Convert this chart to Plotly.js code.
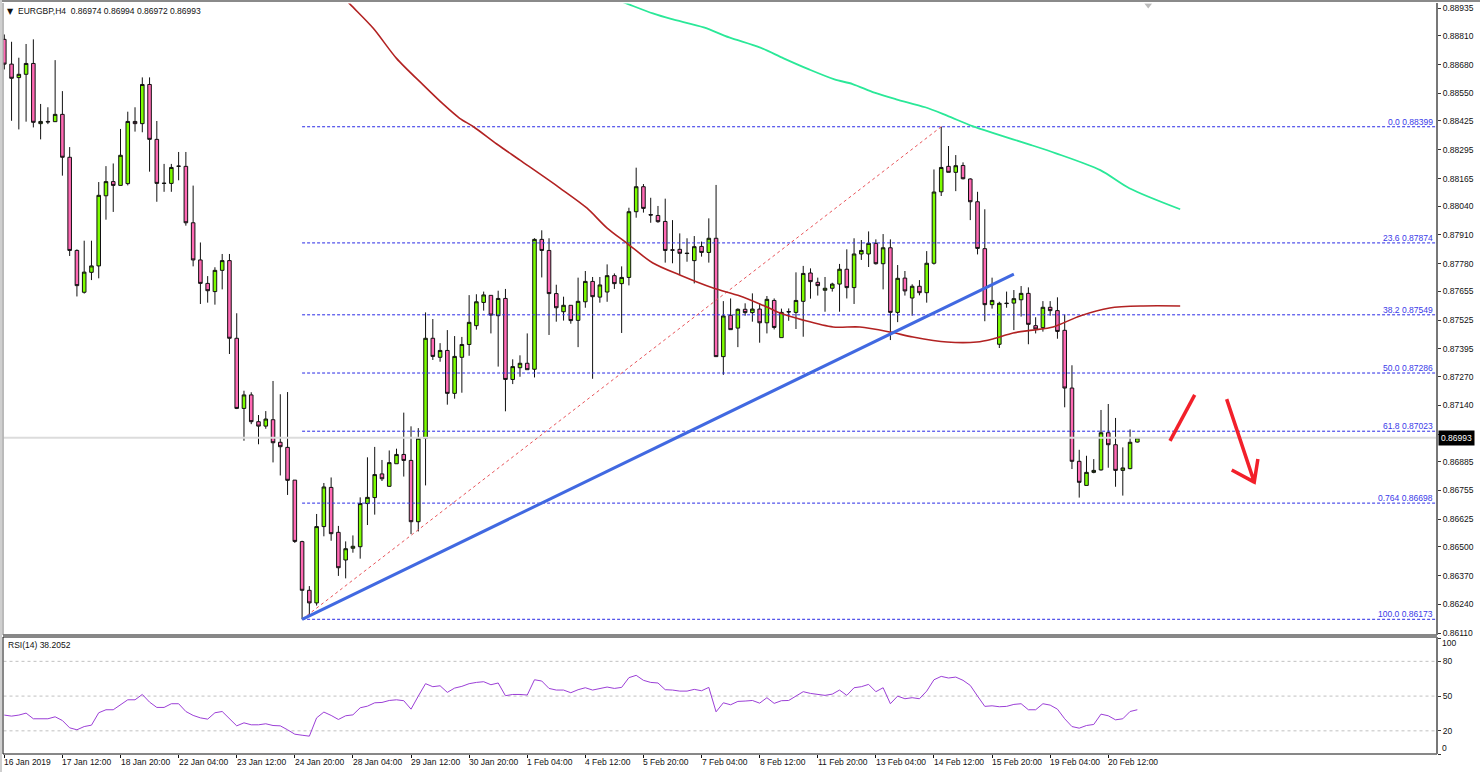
<!DOCTYPE html>
<html><head><meta charset="utf-8">
<script src="https://cdn.plot.ly/plotly-3.0.1.min.js"></script>
<style>html,body{margin:0;padding:0;background:#fff;overflow:hidden}#c{width:1480px;height:772px}</style>
</head><body><div id="c"></div>
<script>
// Prices in 1/100000 units (pipettes), bar by bar (4H bars)
const openP=[88794,88682,88621,88636,88685,88413,88423,88422,88455,88261,87840,87651,87741,87770,88087,88151,88134,88142,88423,88413,88590,88342,88144,88143,88220,88220,87965,87797,87691,87654,87750,87794,87443,87126,87187,87066,87046,87075,86973,86950,86802,86524,86304,86247,86592,86769,86566,86441,86494,86501,86696,86723,86830,86774,86876,86918,86891,86614,86991,87443,87357,87388,87194,87357,87415,87500,87605,87637,87545,87623,87257,87310,87330,87303,87890,87840,87645,87563,87592,87524,87608,87700,87629,87652,87726,87690,87718,88015,88128,88002,87998,87971,87843,87845,87828,87794,87858,87831,87895,87360,87547,87489,87574,87559,87575,87513,87614,87446,87564,87560,87610,87738,87696,87660,87669,87688,87755,87672,87824,87824,87872,87780,87852,87560,87715,87625,87678,87649,87782,88105,88220,88193,88224,88163,88060,87848,87595,87416,87602,87602,87617,87646,87500,87491,87583,87568,87479,87218,86887,86778,86837,86848,87016,86962,86846,86854,86974];
const highP=[88816,88783,88711,88773,88794,88502,88487,88700,88560,88307,87845,87884,87884,88149,88221,88233,88389,88467,88487,88622,88622,88425,88231,88231,88285,88285,88133,87876,87724,87764,87824,87824,87556,87206,87199,87096,87114,87250,87190,87200,86802,86528,86323,86649,86789,86814,86595,86525,86552,86724,86905,86952,86893,86936,86944,87107,87045,87037,87560,87530,87421,87480,87453,87449,87638,87642,87654,87637,87658,87666,87348,87366,87465,87895,87931,87895,87685,87631,87592,87717,87747,87720,87720,87777,87736,87768,88033,88214,88140,88078,88041,88074,87977,87917,87895,87905,87880,87985,88136,87611,87623,87578,87601,87646,87601,87634,87623,87577,87578,87741,87770,87759,87717,87720,87694,87779,87845,87895,87887,87926,87890,87914,87890,87774,87747,87687,87706,87837,88206,88399,88312,88271,88238,88166,88105,88026,87717,87608,87654,87661,87679,87673,87538,87611,87611,87628,87551,87321,86939,86912,86897,87119,87146,87083,86950,87031,86994];
const lowP=[88658,88426,88387,88422,88396,88342,88411,88421,88178,87815,87632,87645,87706,87714,87979,88014,88134,88134,88377,88374,88196,88060,88105,88105,88157,87952,87768,87598,87604,87595,87664,87372,87123,86980,87055,86964,87034,86882,86823,86735,86518,86173,86192,86235,86548,86528,86369,86358,86474,86447,86599,86646,86798,86772,86876,86818,86558,86570,86778,87345,87337,87143,87170,87197,87364,87482,87568,87465,87315,87113,87236,87269,87301,87266,87718,87458,87518,87523,87509,87403,87581,87260,87604,87608,87666,87467,87682,87988,88011,87965,87965,87785,87782,87729,87789,87691,87812,87785,87360,87278,87482,87403,87545,87518,87423,87465,87483,87446,87522,87485,87450,87622,87636,87563,87654,87563,87623,87598,87797,87765,87776,87664,87435,87516,87636,87545,87637,87604,87776,88086,88193,88108,88161,87977,87822,87520,87577,87399,87581,87480,87541,87416,87465,87473,87545,87441,87131,86852,86723,86778,86833,86845,86858,86772,86732,86851,86972];
const closeP=[88682,88618,88636,88685,88419,88423,88421,88455,88261,87840,87681,87742,87770,88089,88151,88134,88270,88423,88413,88590,88342,88143,88143,88215,88221,87965,87797,87691,87658,87750,87794,87443,87126,87187,87066,87046,87078,86971,86953,86801,86525,86304,86247,86592,86771,86560,86406,86492,86503,86696,86724,86827,86808,86881,86918,86891,86614,86991,87443,87361,87388,87194,87361,87415,87515,87608,87639,87548,87623,87257,87315,87330,87301,87890,87840,87645,87581,87592,87523,87610,87700,87631,87684,87726,87690,87718,88015,88128,88030,88000,87970,87840,87841,87827,87826,87857,87831,87895,87360,87544,87482,87574,87559,87575,87513,87619,87492,87560,87562,87614,87736,87699,87681,87669,87688,87755,87672,87824,87840,87872,87780,87852,87560,87714,87657,87678,87649,87782,88104,88215,88193,88223,88164,88060,87849,87595,87614,87601,87600,87622,87646,87506,87485,87583,87568,87474,87218,86887,86792,86837,86846,87016,86962,86846,86857,86973,86993];
const rsiValues=[33.6,32.7,33.6,35.3,30.4,30.4,30.4,32.1,28.9,22.6,20.9,23.7,24.9,35.6,38.2,38.2,42.5,46.8,46.8,51.4,44.8,40.2,40.2,43.4,43.4,36.7,33.3,31.2,30.1,35.6,36.7,30.1,24.3,26.9,25.2,25.2,26.1,24.6,24.3,20.9,17.1,16.2,15.4,31.2,36.2,33.3,29.8,33,33.8,39.9,41.3,44.2,44.5,46.2,46.8,46,38.7,50,60.7,58.1,58.9,53.2,56.9,58.4,60.7,61.8,62.4,59.8,61.3,50.3,51.4,51.4,50.9,64.1,63,56.6,55.2,55.2,52.9,55.5,57.2,55.2,56.3,57.8,56.6,57.5,65.9,67.9,63.6,61.8,61.3,55.5,55.2,54.3,54.3,55.8,54.6,57.5,36.4,44.2,42.5,45.4,45.7,46.2,43.9,48.6,43.7,46,46.2,50,53.8,52.3,51.4,50.6,51.7,55.2,50.6,57.2,58.1,60.1,53.8,57.2,43.4,50,47.7,48.6,47.7,54.3,64.1,67,65.6,66.4,63.6,59.2,50,41.1,41.6,40.8,41.1,42.8,43.4,38.2,38.2,43.4,42.2,38.7,30.4,23.7,22.3,24.6,25.5,34.4,33,29.5,30.4,36.7,38.2];
// Moving averages (shifted forward past the last bar)
const ma100Bar=[46,47.6,50.8,54,57.7,60.4,62.7,64.6,67.8,71,76.5,80.2,83,85.7,89.3,93,97.6,101.3,105,106.8,110,114.1,117.8,122,125.1,129.8,133.9,136.1,138.9,141.6,144.4,148.1,152.2,156.8,161.9];
const ma100Val=[89010,88953,88844,88708,88587,88502,88437,88399,88321,88248,88122,88032,87941,87873,87783,87729,87670,87634,87584,87557,87525,87494,87494,87471,87449,87426,87426,87440,87467,87480,87494,87544,87580,87589,87589];
const ma200Bar=[84.1,86,89.3,91.8,96.3,99.8,104,107.3,110.8,114.3,116.8,119.8,122.8,126.8,129.8,133.3,136.3,141.4,144.8,150.9,154.9,161.9];
const ma200Val=[88976,88952,88911,88886,88848,88803,88758,88708,88658,88613,88592,88553,88523,88487,88449,88402,88369,88316,88279,88203,88121,88026];
// Fibonacci retracement
const fibLevels=["0.0","23.6","38.2","50.0","61.8","0.764","100.0"];
const fibPrices=[0.88399,0.87874,0.87549,0.87286,0.87023,0.86698,0.86173];
const fibStartBar=41, fibPeakBar=129;
// Hand-drawn trend line and arrows
const trendBar=[41,139], trendVal=[86173,87733];
const arrowUpBar=[160.5,163.9], arrowUpVal=[86979,87187];
const arrowDownBar=[168.3,172.1,169,172.1,172.6], arrowDownVal=[87168,86793,86848,86793,86897];
// Axis labels
const priceTicks=[88935,88810,88680,88550,88425,88295,88165,88040,87910,87780,87655,87525,87395,87270,87140,87010,86885,86755,86625,86500,86370,86240,86110];
const timeTickBars=[0,8,16,24,32,40,48,56,64,72,80,88,96,104,112,120,128,136,144,152];
const timeLabels=["16 Jan 2019","17 Jan 12:00","18 Jan 20:00","22 Jan 04:00","23 Jan 12:00","24 Jan 20:00","28 Jan 04:00","29 Jan 12:00","30 Jan 20:00","1 Feb 04:00","4 Feb 12:00","5 Feb 20:00","7 Feb 04:00","8 Feb 12:00","11 Feb 20:00","13 Feb 04:00","14 Feb 12:00","15 Feb 20:00","19 Feb 04:00","20 Feb 12:00"];
const rsiLevels=[20,50,80];
const lastPrice=0.86993;

const px=a=>a.map(v=>v/100000);
const F="'Liberation Sans', Arial, sans-serif";
const W=1480,H=772;
const py=y=>1-y/H, pxx=x=>x/W;
const XR=[-0.11,197.26];
const bars=openP.map((_,i)=>i);
const lineTrace=(x,y,color,width,dash,yaxis,spline)=>({type:'scatter',mode:'lines',x,y,xaxis:yaxis==='y2'?'x':'x2',yaxis:yaxis||'y',line:Object.assign({color,width,dash:dash||'solid'},spline?{shape:'spline',smoothing:0.8}:{}),hoverinfo:'skip',showlegend:false});

const traces=[];
traces.push(lineTrace(XR,[lastPrice,lastPrice],'#dcdcdc',2));
traces.push({type:'candlestick',xaxis:'x2',yaxis:'y',x:bars,open:px(openP),high:px(highP),low:px(lowP),close:px(closeP),
  increasing:{line:{color:'#111',width:1},fillcolor:'#7CFC00'},decreasing:{line:{color:'#111',width:1},fillcolor:'#FF69B4'},whiskerwidth:0,hoverinfo:'skip',showlegend:false});
fibPrices.forEach(p=>traces.push(lineTrace([fibStartBar,XR[1]],[p,p],'#2a2ae6',1,'3px,2px')));
traces.push(lineTrace([fibStartBar,fibPeakBar],[fibPrices[6],fibPrices[0]],'#e8545a',1,'3px,3px'));
traces.push(lineTrace(ma100Bar,px(ma100Val),'#b22222',1.6,null,'y',true));
traces.push(lineTrace(ma200Bar,px(ma200Val),'#2ae898',1.8,null,'y',true));
traces.push(lineTrace(trendBar,px(trendVal),'#4169e1',3));
traces.push(lineTrace(arrowUpBar,px(arrowUpVal),'#f2202a',3.5));
traces.push(lineTrace(arrowDownBar,px(arrowDownVal),'#f2202a',3.5));
traces.push({type:'scatter',mode:'markers',x:[157.5],y:[0.88949],xaxis:'x2',yaxis:'y',marker:{symbol:'triangle-down',size:7,color:'#bbbbbb'},hoverinfo:'skip',showlegend:false});
rsiLevels.forEach(l=>traces.push(lineTrace(XR,[l,l],'#c0c0c0',1,'3px,3px','y2')));
traces.push(lineTrace(bars,rsiValues,'#9b3fd6',1,'solid','y2'));

const ann=[];
fibPrices.forEach((p,i)=>ann.push({xref:'paper',yref:'y',x:pxx(1434),y:p,xanchor:'right',yanchor:'bottom',showarrow:false,borderpad:0,yshift:-1,
  text:fibLevels[i]+' '+p.toFixed(5),font:{family:F,size:8.5,color:'#3a3ae8'}}));
ann.push({xref:'paper',yref:'paper',x:pxx(17),y:py(11),xanchor:'left',yanchor:'middle',showarrow:false,borderpad:0,
  text:'EURGBP,H4  0.86974 0.86994 0.86972 0.86993',font:{family:F,size:8.5,color:'#111'}});
ann.push({xref:'paper',yref:'paper',x:pxx(5.5),y:py(11),xanchor:'left',yanchor:'middle',showarrow:false,borderpad:0,
  text:'▼',font:{family:"'DejaVu Sans'",size:8,color:'#111'}});
ann.push({xref:'paper',yref:'paper',x:pxx(7),y:py(645),xanchor:'left',yanchor:'middle',showarrow:false,borderpad:0,
  text:'RSI(14) 38.2052',font:{family:F,size:8.5,color:'#111'}});
ann.push({xref:'paper',yref:'y',x:pxx(1437.5),y:lastPrice,xanchor:'left',yanchor:'middle',showarrow:false,bgcolor:'#000',borderpad:2,
  text:lastPrice.toFixed(5),font:{family:F,size:8.5,color:'#fff'}});
[[100,95.9],[0,5.2]].forEach(a=>ann.push({xref:'paper',yref:'y2',x:pxx(1441),y:a[1],xanchor:'left',yanchor:'middle',showarrow:false,borderpad:0,
  text:String(a[0]),font:{family:F,size:8.5,color:'#111'}}));
timeTickBars.forEach((b,i)=>ann.push({xref:'x',yref:'paper',x:b,y:py(762),xanchor:'left',yanchor:'middle',showarrow:false,borderpad:0,xshift:-1,
  text:timeLabels[i],font:{family:F,size:8.5,color:'#111'}}));

const hl=(x0,x1,y,c,w)=>({type:'line',xref:'paper',yref:'paper',x0:pxx(x0),x1:pxx(x1),y0:py(y),y1:py(y),line:{color:c,width:w},layer:'above'});
const vl=(x,y0,y1,c,w)=>({type:'line',xref:'paper',yref:'paper',x0:pxx(x),x1:pxx(x),y0:py(y0),y1:py(y1),line:{color:c,width:w},layer:'above'});
const shapes=[
  hl(0,1480,1,'#8a8a8a',2),
  hl(3,1437,635,'#111',1),hl(3,1437,637,'#111',1),hl(3,1437,754,'#111',1),
  vl(1,0,772,'#cfcfcf',2),
  vl(3,3,635,'#777',1),vl(3,637,754,'#111',1),
  vl(1437,3,635,'#777',2),vl(1437,637,754,'#777',2)
];

const tf={family:F,size:8.5,color:'#111'};
const layout={width:W,height:H,margin:{l:0,r:0,t:0,b:0,pad:0},paper_bgcolor:'#fff',plot_bgcolor:'#fff',showlegend:false,hovermode:false,dragmode:false,font:{family:F},
  boxgap:0.3,
  xaxis:{domain:[pxx(3.5),pxx(1437)],range:XR,anchor:'y2',showgrid:false,zeroline:false,showline:false,ticks:'outside',ticklen:3,tickcolor:'#111',tickwidth:1,
    tickmode:'array',tickvals:timeTickBars,showticklabels:false,rangeslider:{visible:false}},
  xaxis2:{domain:[pxx(3.5),pxx(1437)],range:XR,anchor:'y',showgrid:false,zeroline:false,showline:false,showticklabels:false,ticks:'',rangeslider:{visible:false}},
  yaxis:{domain:[py(635),py(3.5)],range:[0.86102,0.88956],side:'right',anchor:'x2',showgrid:false,zeroline:false,showline:false,ticks:'outside',ticklen:3,tickcolor:'#333',
    tickmode:'array',tickvals:px(priceTicks),ticktext:priceTicks.map(v=>(v/100000).toFixed(5)),tickfont:tf},
  yaxis2:{domain:[py(754),py(637)],range:[0,101],side:'right',anchor:'x',showgrid:false,zeroline:false,showline:false,ticks:'outside',ticklen:3,tickcolor:'#333',
    tickmode:'array',tickvals:[0,20,50,80,100],ticktext:['','20','50','80',''],tickfont:tf},
  annotations:ann,shapes};
Plotly.newPlot('c',traces,layout,{staticPlot:true,displayModeBar:false});
</script></body></html>
